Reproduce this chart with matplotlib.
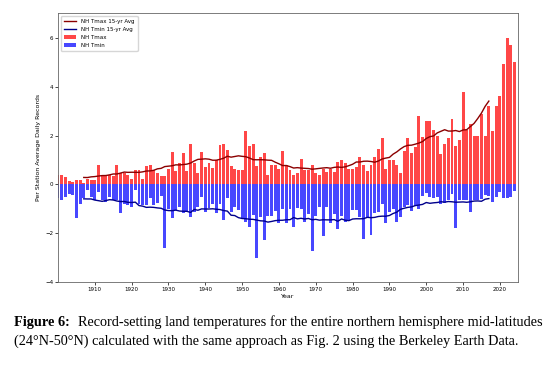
import numpy as np
import pandas as pd
import matplotlib
matplotlib.use('Agg')
import matplotlib.pyplot as plt

# record-setting days per station, NH mid-latitudes (24N-50N)
years = list(range(1900, 2025))

nh_tmax = [
    0.38, 0.38, 0.31, 0.14, 0.11, 0.20, 0.18, 0.07, 0.24, 0.18,   # 1900s
    0.18, 0.79, 0.38, 0.38, 0.38, 0.34, 0.79, 0.48, 0.48, 0.38,   # 1910s
    0.24, 0.58, 0.61, 0.24, 0.75, 0.79, 0.61, 0.45, 0.35, 0.34,   # 1920s
    0.65, 1.31, 0.54, 0.86, 1.27, 0.54, 1.67, 0.86, 0.48, 1.33,   # 1930s
    0.72, 0.86, 0.69, 1.02, 1.60, 1.65, 1.43, 0.75, 0.65, 0.61,   # 1940s
    0.58, 2.19, 1.58, 1.67, 0.75, 1.13, 1.27, 0.38, 0.79, 0.79,   # 1950s
    0.65, 1.35, 0.79, 0.60, 0.40, 0.47, 1.04, 0.60, 0.58, 0.79,   # 1960s
    0.45, 0.40, 0.62, 0.52, 0.65, 0.52, 0.93, 1.02, 0.88, 0.65,   # 1970s
    0.65, 0.70, 1.13, 0.80, 0.56, 0.79, 1.13, 1.47, 1.90, 0.65,   # 1980s
    0.99, 0.99, 0.80, 0.45, 1.37, 1.88, 1.27, 1.54, 2.80, 1.95,   # 1990s
    2.58, 2.60, 2.24, 2.00, 1.25, 1.67, 1.92, 2.69, 1.56, 1.81,   # 2000s
    3.78, 2.24, 2.49, 1.97, 1.97, 2.90, 1.97, 3.20, 2.19, 3.20,   # 2010s
    3.60, 4.94, 6.00, 5.69, 5.00,                                 # 2020s
]

nh_tmin = [
    -0.57, -0.64, -0.50, -0.41, -0.44, -1.39, -0.78, -0.57, -0.23, -0.50,
    -0.64, -0.30, -0.64, -0.71, -0.50, -0.64, -0.64, -1.18, -0.78, -0.85,
    -0.91, -0.23, -0.78, -0.85, -0.84, -0.57, -0.84, -0.75, -0.48, -2.60,
    -1.00, -1.39, -1.05, -0.91, -1.18, -1.12, -1.32, -1.12, -0.91, -0.50,
    -1.12, -0.98, -0.78, -1.18, -0.78, -1.46, -0.57, -1.12, -0.91, -1.05,
    -1.39, -1.52, -1.73, -1.25, -3.02, -1.32, -2.27, -1.30, -1.30, -1.10,
    -1.56, -1.02, -1.56, -1.02, -1.73, -0.98, -1.02, -1.52, -1.22, -2.72,
    -1.29, -0.94, -2.11, -0.94, -1.56, -1.21, -1.84, -1.29, -1.52, -1.48,
    -1.05, -1.05, -1.32, -2.24, -1.32, -2.07, -1.18, -1.12, -0.78, -1.59,
    -1.12, -1.02, -1.52, -1.32, -0.94, -0.84, -1.09, -0.88, -1.02, -0.48,
    -0.34, -0.53, -0.57, -0.50, -0.80, -0.75, -0.64, -0.37, -1.80, -0.64,
    -0.64, -0.64, -1.12, -0.64, -0.64, -0.61, -0.44, -0.48, -0.71, -0.50,
    -0.30, -0.57, -0.57, -0.53, -0.26,
]

caption_bold = 'Figure 6:'
caption_line1 = 'Record-setting land temperatures for the entire northern hemisphere mid-latitudes'
caption_line2 = '(24\u00b0N-50\u00b0N) calculated with the same approach as Fig. 2 using the Berkeley Earth Data.'

# 15-yr centred running mean
tmax_avg = pd.Series(nh_tmax, index=years).rolling(15, center=True).mean()
tmin_avg = pd.Series(nh_tmin, index=years).rolling(15, center=True).mean()

fig = plt.figure(figsize=(5.56, 3.68), dpi=100)
ax = fig.add_axes([0.1043, 0.2329, 0.8279, 0.7310])

ax.plot(tmax_avg.index, tmax_avg.values, color='darkred', lw=1.0, label='NH Tmax 15-yr Avg')
ax.plot(tmin_avg.index, tmin_avg.values, color='darkblue', lw=1.0, label='NH Tmin 15-yr Avg')
ax.bar(years, nh_tmax, width=0.8, color='red', alpha=0.72, label='NH Tmax')
ax.bar(years, nh_tmin, width=0.8, color='blue', alpha=0.72, label='NH Tmin')

ax.set_xlim(1900, 2025)
ax.set_ylim(-4, 7)
ax.set_xticks(range(1910, 2021, 10))
ax.set_yticks([-4, -2, 0, 2, 4, 6])
ax.tick_params(labelsize=4, length=2, width=0.5, pad=1.5)
for s in ax.spines.values():
    s.set_linewidth(0.6)
    s.set_color('#666666')
ax.set_xlabel('Year', fontsize=4.5, labelpad=1)
ax.set_ylabel('Per Station Average Daily Records', fontsize=4.5, labelpad=3)
ax.legend(loc='upper left', fontsize=4, handlelength=2.2, borderpad=0.6, labelspacing=0.5)

# caption in paper style
serif = ['Liberation Serif', 'DejaVu Serif']
t = fig.text(14 / 556, 1 - 326 / 368, caption_bold, fontsize=10.3, fontweight='bold', family=serif, va='baseline')
fig.canvas.draw()
bb = t.get_window_extent()
fig.text((bb.x1 + 8) / 556, 1 - 326 / 368, caption_line1, fontsize=10.3, family=serif, va='baseline')
fig.text(14 / 556, 1 - 345 / 368, caption_line2, fontsize=10.3, family=serif, va='baseline')

fig.savefig('out.png', dpi=100)
